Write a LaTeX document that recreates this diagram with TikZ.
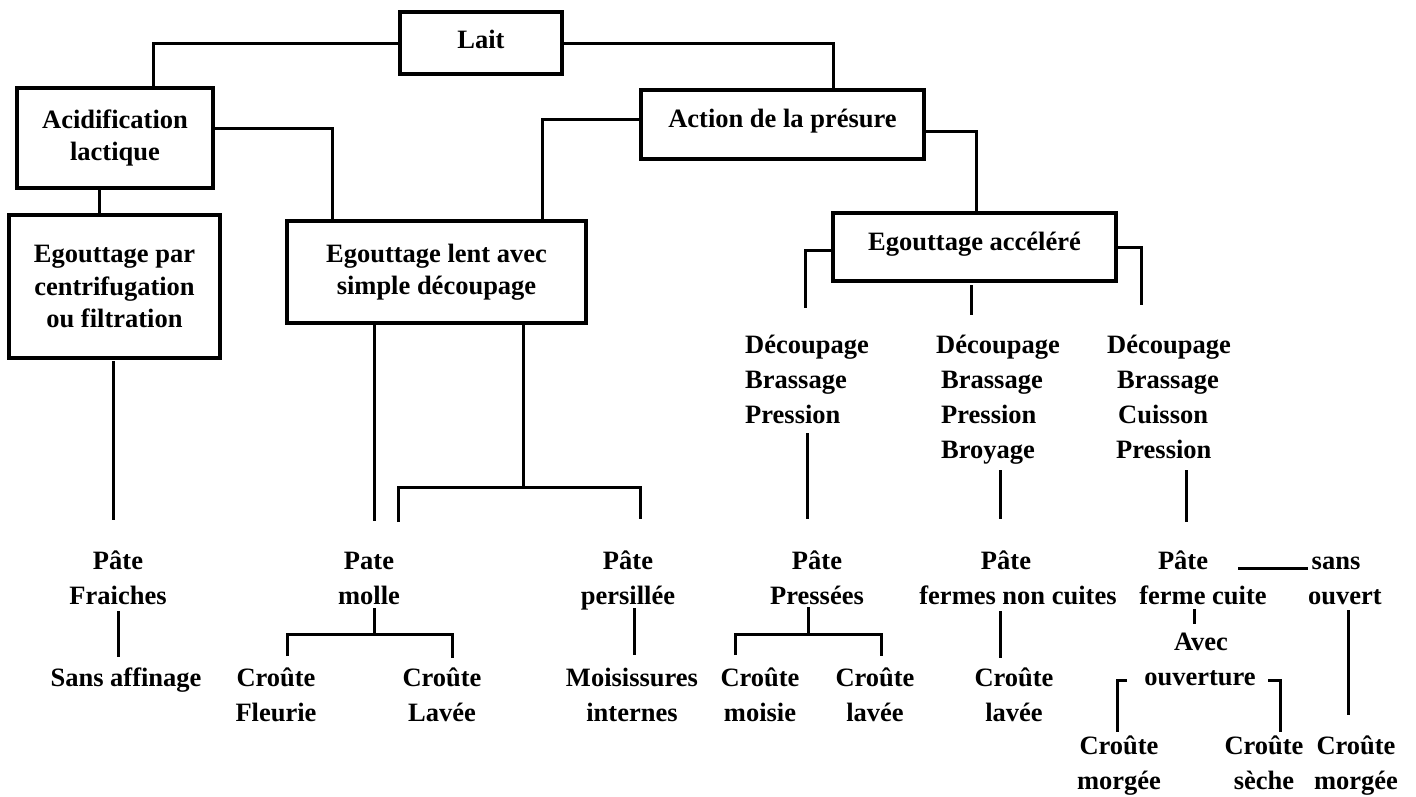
\documentclass[tikz,border=0pt]{standalone}
\usepackage{fontspec}
\setmainfont{Liberation Serif}
\begin{document}
\begin{tikzpicture}[x=1pt,y=-1pt,
  txt/.style={inner sep=0pt, align=center, font=\bfseries\fontsize{26.5}{35}\selectfont},
  box/.style={inner sep=0pt, align=center, draw, line width=3.2pt, font=\bfseries\fontsize{26.5}{32.5}\selectfont},
  con/.style={line width=3pt}]
\useasboundingbox[fill=white] (0,0) rectangle (1416,796);
% boxes
\node[box, minimum width=162, minimum height=62, text depth=8pt] (lait) at (481,43) {Lait};
\node[box, minimum width=196, minimum height=100] (acid) at (115,138) {Acidification\\lactique};
\node[box, minimum width=283, minimum height=69, text depth=13pt] (action) at (782.5,124.5) {Action de la présure};
\node[box, minimum width=211, minimum height=143] (egpar) at (114.5,286.5) {Egouttage par\\centrifugation\\ou filtration};
\node[box, minimum width=299, minimum height=102] (eglent) at (436.5,272) {Egouttage lent avec\\simple découpage};
\node[box, minimum width=283, minimum height=68, text depth=12pt] (egacc) at (974.5,247) {Egouttage accéléré};
% process texts (base = last line)
\node[txt, align=left, anchor=base west] (proc1) at (745,423) {Découpage\\Brassage\\Pression};
\node[txt, align=left, anchor=base west] (proc2) at (936,458) {Découpage\\\hspace*{5pt}Brassage\\\hspace*{5pt}Pression\\\hspace*{5pt}Broyage};
\node[txt, align=left, anchor=base west] (proc3) at (1107,458) {Découpage\\\hspace*{10pt}Brassage\\\hspace*{11pt}Cuisson\\\hspace*{9pt}Pression};
% pastes
\node[txt, anchor=base] (fr) at (118,604) {Pâte\\Fraiches};
\node[txt, anchor=base] (mol) at (369,604) {Pate\\molle};
\node[txt, anchor=base] (per) at (628,604) {Pâte\\persillée};
\node[txt, anchor=base] (pre) at (817,604) {Pâte\\Pressées};
\node[txt, anchor=base] (fnc) at (1018,604) {Pâte\hspace*{24pt}\\fermes non cuites};
\node[txt, anchor=base] (fc) at (1203,604) {Pâte\hspace*{40pt}\\ferme cuite};
\node[txt, anchor=base] (so) at (1345,604) {sans\hspace*{18pt}\\ouvert};
% crusts
\node[txt, anchor=base] (sa) at (126,686) {Sans affinage};
\node[txt, anchor=base] (cfl) at (276,721) {Croûte\\Fleurie};
\node[txt, anchor=base] (cla) at (442,721) {Croûte\\Lavée};
\node[txt, anchor=base] (moi) at (632,721) {Moisissures\\internes};
\node[txt, anchor=base] (cmo) at (760,721) {Croûte\\moisie};
\node[txt, anchor=base] (clv) at (875,721) {Croûte\\lavée};
\node[txt, anchor=base] (clv2) at (1014,721) {Croûte\\lavée};
\node[txt, anchor=base] (avec) at (1201,650) {Avec};
\node[txt, anchor=base] (ouv) at (1200,685) {ouverture};
\node[txt, anchor=base] (cmg1) at (1119,789) {Croûte\\morgée};
\node[txt, anchor=base] (cse) at (1264,789) {Croûte\\sèche};
\node[txt, anchor=base] (cmg2) at (1356,789) {Croûte\\morgée};
% coordinates for free ends
\coordinate (a1) at (805,308);
\coordinate (a3) at (1141,305);
\coordinate (m1) at (971,285); \coordinate (m2) at (971,315);
\coordinate (l1a) at (807,433); \coordinate (l1b) at (807,519);
\coordinate (l2a) at (1000,470); \coordinate (l2b) at (1000,519);
\coordinate (l3a) at (1186,470); \coordinate (l3b) at (1186,522);
\coordinate (e1a) at (113,361); \coordinate (e1b) at (113,520);
\coordinate (e2b) at (374,521);
\coordinate (e3) at (523,487);
\coordinate (h1) at (398.5,487); \coordinate (h1b) at (398.5,522);
\coordinate (h2) at (640,487); \coordinate (h2b) at (640,519);
% connectors
\draw[con] (lait.west) -| ([xshift=38]acid.north);
\draw[con] (lait.east) -| ([xshift=50.5]action.north);
\draw[con] ([yshift=10]acid.east) -| ([xshift=-104.5]eglent.north);
\draw[con] ([xshift=-16]acid.south) -- ([xshift=-16]acid.south |- egpar.north);
\draw[con] ([yshift=5.5]action.west) -| ([xshift=105.5]eglent.north);
\draw[con] ([yshift=-6.5]action.east) -| ([xshift=1.5]egacc.north);
\draw[con] ([yshift=-3]egacc.west) -| (a1);
\draw[con] (egacc.east) -| (a3);
\draw[con] (m1) -- (m2);
\draw[con] (l1a) -- (l1b);
\draw[con] (l2a) -- (l2b);
\draw[con] (l3a) -- (l3b);
\draw[con] (e1a) -- (e1b);
\draw[con] ([xshift=-62.5]eglent.south) -- (e2b);
\draw[con] ([xshift=86.5]eglent.south) -- (e3);
\draw[con] (h1b) -- (h1) -- (h2) -- (h2b);
% lower
\coordinate (f1) at (118,611); \coordinate (f2) at (118,657);
\draw[con] (f1) -- (f2);
\coordinate (mo1) at (374,608); \coordinate (mo2) at (374,634);
\coordinate (mo3) at (287,634); \coordinate (mo4) at (287,656);
\coordinate (mo5) at (452,634); \coordinate (mo6) at (452,658);
\draw[con] (mo1) -- (mo2);
\draw[con] (mo4) -- (mo3) -- (mo5) -- (mo6);
\coordinate (pe1) at (634,608); \coordinate (pe2) at (634,655);
\draw[con] (pe1) -- (pe2);
\coordinate (pr1) at (808,607); \coordinate (pr2) at (808,634);
\coordinate (pr3) at (735,634); \coordinate (pr4) at (735,655);
\coordinate (pr5) at (881,634); \coordinate (pr6) at (881,656);
\draw[con] (pr1) -- (pr2);
\draw[con] (pr4) -- (pr3) -- (pr5) -- (pr6);
\coordinate (fn1) at (1000,611); \coordinate (fn2) at (1000,658);
\draw[con] (fn1) -- (fn2);
\coordinate (fc1) at (1194,609); \coordinate (fc2) at (1194,624);
\draw[con] (fc1) -- (fc2);
\coordinate (s1) at (1238,568); \coordinate (s2) at (1308,568);
\draw[con] (s1) -- (s2);
\coordinate (o1) at (1127,680); \coordinate (o2) at (1117,680); \coordinate (o3) at (1117,732);
\draw[con] (o1) -- (o2) -- (o3);
\coordinate (o4) at (1268,680); \coordinate (o5) at (1280,680); \coordinate (o6) at (1280,732);
\draw[con] (o4) -- (o5) -- (o6);
\coordinate (so1) at (1348,610); \coordinate (so2) at (1348,715);
\draw[con] (so1) -- (so2);
\end{tikzpicture}
\end{document}
